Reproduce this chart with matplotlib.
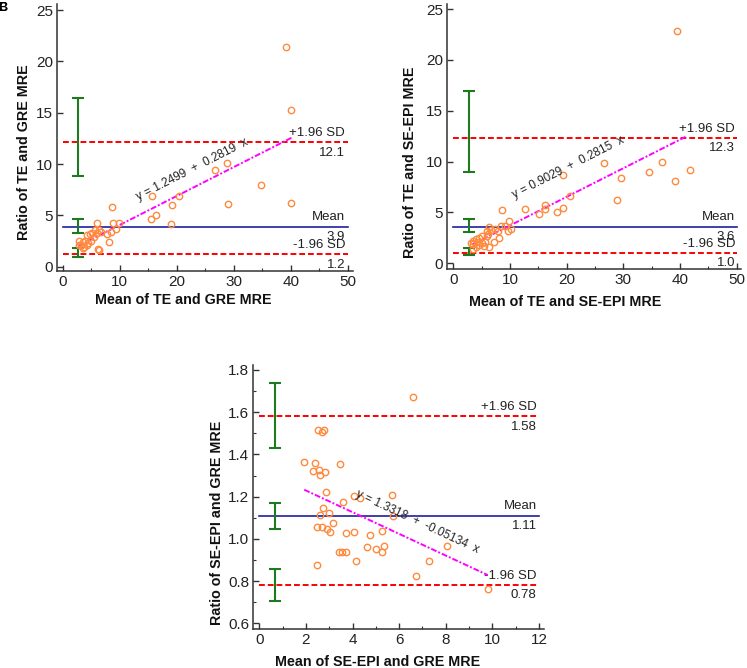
import matplotlib
matplotlib.use("Agg")
import matplotlib.pyplot as plt
from matplotlib.ticker import MultipleLocator

plt.rcParams['font.family'] = ['Liberation Sans', 'DejaVu Sans']

# ---------------- data ----------------
# Panel 1: TE vs GRE
p1_x = [39.2, 40.0, 40.1, 34.7, 28.8, 26.7, 29.0, 20.4, 19.1, 19.0, 15.6, 16.3, 15.4,
        8.6, 8.9, 9.8, 9.4, 8.4, 7.7, 8.1, 6.0, 6.8, 6.3, 5.7, 6.0, 5.2, 4.7, 4.3, 5.4,
        4.9, 3.9, 2.9, 3.5, 4.5, 4.3, 3.8, 3.2, 2.8, 6.25, 6.4, 3.6]
p1_y = [21.4, 15.3, 6.2, 8.0, 10.1, 9.4, 6.1, 6.9, 6.0, 4.2, 6.9, 5.0, 4.6,
        5.8, 4.3, 4.3, 3.7, 3.4, 3.2, 2.4, 4.3, 3.4, 3.6, 3.6, 3.25, 3.3, 3.2, 3.1, 2.9,
        2.5, 2.5, 2.55, 2.4, 2.3, 2.1, 1.95, 2.1, 2.1, 1.75, 1.6, 1.85]
p1_stats = [12.1, 3.9, 1.2]            # +1.96 SD, mean, -1.96 SD
p1_ci = [(8.86, 16.46), (3.31, 4.64), (0.97, 1.8)]
p1_fit = (1.2499, 0.2819)
p1_fit_range = (2.7, 40.2)

# Panel 2: TE vs SE-EPI
p2_x = [39.4, 41.8, 39.1, 36.8, 34.5, 29.5, 28.9, 26.6, 19.3, 20.5, 19.4, 18.3, 16.1,
        16.2, 15.2, 12.7, 8.6, 9.8, 9.2, 9.6, 10.1, 8.4, 7.3, 7.8, 8.0, 6.35, 6.7, 6.0,
        6.2, 5.9, 5.0, 4.6, 4.0, 3.5, 3.1, 3.5, 4.2, 4.5, 4.0, 5.0, 5.6, 5.5, 6.35, 7.1, 3.4]
p2_y = [22.8, 9.15, 8.1, 10.0, 8.96, 8.37, 6.2, 9.84, 8.7, 6.6, 5.4, 5.0, 5.7,
        5.3, 4.8, 5.3, 5.2, 4.2, 3.7, 3.2, 3.4, 3.7, 3.4, 3.2, 2.5, 3.6, 3.3, 3.2,
        2.85, 2.7, 2.7, 2.5, 2.35, 2.2, 2.0, 1.9, 2.05, 1.8, 1.6, 1.97, 2.05, 1.7, 1.6, 2.1, 1.4]
p2_stats = [12.3, 3.6, 1.0]
p2_ci = [(9.02, 16.96), (3.05, 4.36), (0.82, 1.48)]
p2_fit = (0.9029, 0.2815)
p2_fit_range = (3.3, 41.2)

# Panel 3: SE-EPI vs GRE
p3_x = [6.59, 2.53, 2.67, 2.79, 1.93, 2.40, 2.30, 2.57, 2.61, 2.83, 3.45, 2.86, 4.05,
        4.33, 3.60, 5.71, 5.74, 2.73, 2.99, 2.61, 3.15, 2.49, 2.69, 2.89, 3.03, 3.72,
        4.08, 4.76, 5.26, 4.61, 5.01, 5.36, 5.26, 3.40, 3.56, 3.72, 4.15, 2.46, 7.29,
        6.72, 8.07, 9.83]
p3_y = [1.670, 1.516, 1.506, 1.517, 1.363, 1.360, 1.320, 1.326, 1.301, 1.315, 1.353,
        1.221, 1.202, 1.195, 1.176, 1.208, 1.110, 1.145, 1.124, 1.112, 1.075, 1.058,
        1.058, 1.047, 1.033, 1.028, 1.034, 1.017, 1.039, 0.960, 0.952, 0.966, 0.936,
        0.939, 0.939, 0.939, 0.895, 0.876, 0.895, 0.824, 0.968, 0.764]
p3_stats = [1.58, 1.11, 0.78]
p3_ci = [(1.431, 1.740), (1.047, 1.170), (0.707, 0.856)]
p3_fit = (1.3318, -0.05134)
p3_fit_range = (1.93, 9.8)

stat_labels = ['+1.96 SD', 'Mean', '-1.96 SD']

ORANGE = '#FF8A3D'
RED = '#FF0000'
BLUE = '#1F1FA0'
GREEN = '#1E7A1E'
MAGENTA = '#FF00FF'

fig = plt.figure(figsize=(7.47, 6.68), dpi=100)


def panel(rect, xs, ys, stats, ci, fit, fit_range, fmt, xlim, ylim, xmaj, xmin_, ymaj, ymin_,
          line_end, text_x, ci_x, eq_text, eq_pos, eq_rot, xlabel, ylabel, xl_pos, yl_pos):
    ax = fig.add_axes(rect)
    ax.set_xlim(*xlim)
    ax.set_ylim(*ylim)
    for s in ['top', 'right']:
        ax.spines[s].set_visible(False)
    for s in ['left', 'bottom']:
        ax.spines[s].set_linewidth(1.1)
        ax.spines[s].set_color('#333333')
    ax.xaxis.set_major_locator(MultipleLocator(xmaj))
    ax.yaxis.set_major_locator(MultipleLocator(ymaj))
    if xmin_:
        ax.xaxis.set_minor_locator(MultipleLocator(xmin_))
    if ymin_:
        ax.yaxis.set_minor_locator(MultipleLocator(ymin_))
    ax.tick_params(which='major', direction='in', length=4, width=1, labelsize=11, colors='#333333',
                   labelcolor='#222222', pad=3)
    ax.tick_params(which='minor', direction='in', length=2.5, width=0.8, colors='#333333')

    # limit lines
    ax.plot([0, line_end], [stats[0], stats[0]], color=RED, lw=1.4, ls=(0, (3, 1.5)), zorder=2)
    ax.plot([0, line_end], [stats[2], stats[2]], color=RED, lw=1.4, ls=(0, (3, 1.5)), zorder=2)
    ax.plot([0, line_end], [stats[1], stats[1]], color=BLUE, lw=1.2, zorder=2)

    for lab, val in zip(stat_labels, stats):
        ax.annotate(lab, (text_x, val), xytext=(0, 2.5), textcoords='offset points',
                    ha='right', va='bottom', fontsize=9.5, color='#222222')
        ax.annotate(fmt.format(val), (text_x, val), xytext=(0, -3), textcoords='offset points',
                    ha='right', va='top', fontsize=9.5, color='#222222')

    # CI error bars
    for lo, hi in ci:
        mid = (lo + hi) / 2
        ax.errorbar([ci_x], [mid], yerr=[[mid - lo], [hi - mid]], fmt='none', ecolor=GREEN,
                    elinewidth=1.5, capsize=4, capthick=1.5, zorder=3)

    # regression line
    a, b = fit
    fx = [fit_range[0], fit_range[1]]
    fy = [a + b * v for v in fx]
    ax.plot(fx, fy, color=MAGENTA, lw=1.4, ls=(0, (3, 1, 1, 1)), zorder=3)
    ax.text(eq_pos[0], eq_pos[1], eq_text, rotation=eq_rot, rotation_mode='anchor',
            ha='left', va='baseline', fontsize=8.5, color='#222222', zorder=5)

    # points
    ax.plot(xs, ys, 'o', ms=4.6, mfc='none', mec=ORANGE, mew=1.0, zorder=4)

    ax.set_xlabel(xlabel, fontsize=10.3, fontweight='bold', color='#111111')
    ax.set_ylabel(ylabel, fontsize=10.3, fontweight='bold', color='#111111')
    ax.xaxis.set_label_coords(*xl_pos)
    ax.yaxis.set_label_coords(*yl_pos)
    ax.xaxis.label.set_verticalalignment('center')
    ax.yaxis.label.set_verticalalignment('center')
    ax.yaxis.label.set_horizontalalignment('center')
    return ax


panel([0.0763, 0.5943, 0.3963, 0.3999], p1_x, p1_y, p1_stats, p1_ci, p1_fit, p1_fit_range,
      '{:.1f}', (-1.0, 50.9), (-0.42, 25.6), 10, 5, 5, None, 50, 49.5, 2.6,
      'y = 1.2499  +  0.2819  x', (13.4, 6.5), 27,
      'Mean of TE and GRE MRE', 'Ratio of TE and GRE MRE', (0.426, -0.109), (-0.112, 0.444))

panel([0.5988, 0.5978, 0.3928, 0.3963], p2_x, p2_y, p2_stats, p2_ci, p2_fit, p2_fit_range,
      '{:.1f}', (-1.06, 50.7), (-0.53, 25.5), 10, 5, 5, None, 50, 49.7, 2.76,
      'y = 0.9029  +  0.2815  x', (10.8, 6.4), 27,
      'Mean of TE and SE-EPI MRE', 'Ratio of TE and SE-EPI MRE', (0.401, -0.125), (-0.127, 0.401))

panel([0.3391, 0.0579, 0.3896, 0.3957], p3_x, p3_y, p3_stats, p3_ci, p3_fit, p3_fit_range,
      '{:.2f}', (-0.257, 12.23), (0.5716, 1.8236), 2, 1, 0.2, 0.1, 12, 11.9, 0.66,
      'y = 1.3318  +  -0.05134  x', (4.13, 1.2), -25,
      'Mean of SE-EPI and GRE MRE', 'Ratio of SE-EPI and GRE MRE', (0.4285, -0.1226), (-0.126, 0.402))

# overlapping panel letters at top-left
fig.text(-0.002, 0.997, 'B', fontsize=9, fontweight='bold', ha='left', va='top')
fig.text(-0.002, 0.997, 'C', fontsize=9, fontweight='bold', ha='left', va='top')

fig.savefig('out.png', dpi=100)
